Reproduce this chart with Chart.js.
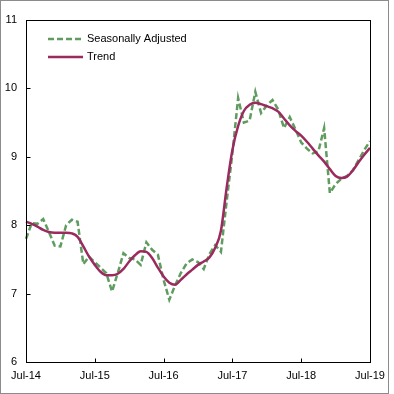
<!DOCTYPE html>
<html>
<head>
<meta charset="utf-8">
<script src="https://cdn.jsdelivr.net/npm/chart.js@4"></script>
<style>
  body { margin: 0; background: #fff; }
  #wrap { position: relative; width: 394px; height: 394px; }
  #frame { position: absolute; left: 0; top: 0; width: 389px; height: 394px; box-sizing: border-box; border: 1px solid #8c8c8c; pointer-events: none; }
  canvas { position: absolute; left: 0; top: 0; }
</style>
</head>
<body>
<div id="wrap">
  <canvas id="chart" width="394" height="394"></canvas>
  <div id="frame"></div>
</div>
<script>
// months from Jul-14 to Jul-19
var monthNames = ['Jul','Aug','Sep','Oct','Nov','Dec','Jan','Feb','Mar','Apr','May','Jun'];
var firstYear = 14;
var labels = [];
for (var i = 0; i <= 60; i++) {
	labels.push(monthNames[i % 12] + '-' + (firstYear + Math.floor((i + 6) / 12)));
}

var seasonallyAdjusted = [
	7.80, 8.03, 8.02, 8.09, 7.90, 7.70, 7.69, 8.00, 8.08, 8.05,
	7.43, 7.54, 7.46, 7.38, 7.30, 7.03, 7.30, 7.59, 7.52, 7.50,
	7.42, 7.75, 7.64, 7.57, 7.20, 6.91, 7.12, 7.30, 7.44, 7.50,
	7.46, 7.36, 7.58, 7.71, 7.61, 8.35, 9.05, 9.86, 9.50, 9.53,
	9.95, 9.64, 9.75, 9.83, 9.69, 9.42, 9.58, 9.40, 9.21, 9.12,
	9.05, 9.08, 9.42, 8.47, 8.60, 8.68, 8.72, 8.80, 8.95, 9.10,
	9.23
];

var trend = [
	8.05, 8.02, 7.98, 7.93, 7.90, 7.89, 7.89, 7.89, 7.88, 7.83,
	7.69, 7.54, 7.42, 7.32, 7.27, 7.27, 7.29, 7.36, 7.47, 7.56,
	7.62, 7.61, 7.52, 7.38, 7.25, 7.16, 7.13, 7.20, 7.28, 7.35,
	7.42, 7.47, 7.53, 7.67, 7.92, 8.55, 9.10, 9.45, 9.67, 9.76,
	9.79, 9.77, 9.74, 9.71, 9.66, 9.56, 9.46, 9.38, 9.31, 9.22,
	9.12, 9.02, 8.93, 8.82, 8.72, 8.69, 8.71, 8.80, 8.92, 9.03,
	9.13
];

var yMin = 6, yMax = 11;

var FONT = 'Arial, "Liberation Sans", sans-serif';
var greenColor = '#5f9c5f';
var trendColor = '#9b2b5e';
var saDash = [6, 3];

// frame, inward ticks and legend
var framePlugin = {
	id: 'framePlugin',
	afterDraw: function(chart) {
		var ctx = chart.ctx;
		var a = chart.chartArea;
		var xs = chart.scales.x, ys = chart.scales.y;
		var L = Math.round(a.left) + 0.5, R = Math.round(a.right) + 0.5;
		var T = Math.round(a.top) + 0.5, B = Math.round(a.bottom) + 0.5;
		ctx.save();
		ctx.strokeStyle = '#000';
		ctx.lineWidth = 1;
		ctx.strokeRect(L, T, R - L, B - T);
		ctx.beginPath();
		for (var v = yMin; v <= yMax; v++) {
			var py = Math.round(ys.getPixelForValue(v)) + 0.5;
			ctx.moveTo(L, py); ctx.lineTo(L + 4, py);
		}
		for (var i = 0; i < labels.length; i += 12) {
			var px = Math.round(xs.getPixelForValue(i)) + 0.5;
			ctx.moveTo(px, B); ctx.lineTo(px, B - 4);
		}
		ctx.stroke();

		// legend
		var items = [
			{ text: 'Seasonally Adjusted', color: greenColor, dash: saDash },
			{ text: 'Trend', color: trendColor, dash: [] }
		];
		ctx.font = '11px ' + FONT;
		ctx.textBaseline = 'middle';
		items.forEach(function(it, k) {
			var y = 39 + k * 18;
			ctx.beginPath();
			ctx.setLineDash(it.dash);
			ctx.strokeStyle = it.color;
			ctx.lineWidth = 2.5;
			ctx.moveTo(48, y); ctx.lineTo(83, y);
			ctx.stroke();
			ctx.setLineDash([]);
			ctx.fillStyle = '#000';
			ctx.fillText(it.text, 87, y);
		});
		ctx.restore();
	}
};

var ctx = document.getElementById('chart').getContext('2d');

new Chart(ctx, {
	type: 'line',
	data: {
		labels: labels,
		datasets: [
			{
				label: 'Seasonally Adjusted',
				data: seasonallyAdjusted,
				borderColor: greenColor,
				borderWidth: 2.5,
				borderDash: saDash,
				pointRadius: 0,
				tension: 0,
				fill: false,
				order: 2
			},
			{
				label: 'Trend',
				data: trend,
				borderColor: trendColor,
				borderWidth: 2.5,
				pointRadius: 0,
				cubicInterpolationMode: 'monotone',
				fill: false,
				order: 1
			}
		]
	},
	options: {
		responsive: false,
		animation: false,
		layout: { padding: { left: 0, top: 20, right: 24, bottom: 0 } },
		plugins: {
			legend: { display: false },
			tooltip: { enabled: false }
		},
		scales: {
			x: {
				offset: false,
				grid: { display: false, drawTicks: false, tickLength: 0 },
				border: { display: false },
				afterFit: function(scale) { scale.height = 32; },
				ticks: {
					autoSkip: false,
					maxRotation: 0,
					minRotation: 0,
					padding: 7,
					color: '#000',
					font: { family: FONT, size: 11 },
					callback: function(val, idx) {
						return idx % 12 === 0 ? labels[idx] : '';
					}
				}
			},
			y: {
				min: yMin,
				max: yMax,
				grid: { display: false, drawTicks: false, tickLength: 0 },
				border: { display: false },
				afterFit: function(scale) { scale.width = 26; },
				ticks: {
					stepSize: 1,
					padding: 9,
					color: '#000',
					font: { family: FONT, size: 11 }
				}
			}
		}
	},
	plugins: [framePlugin]
});
</script>
</body>
</html>
